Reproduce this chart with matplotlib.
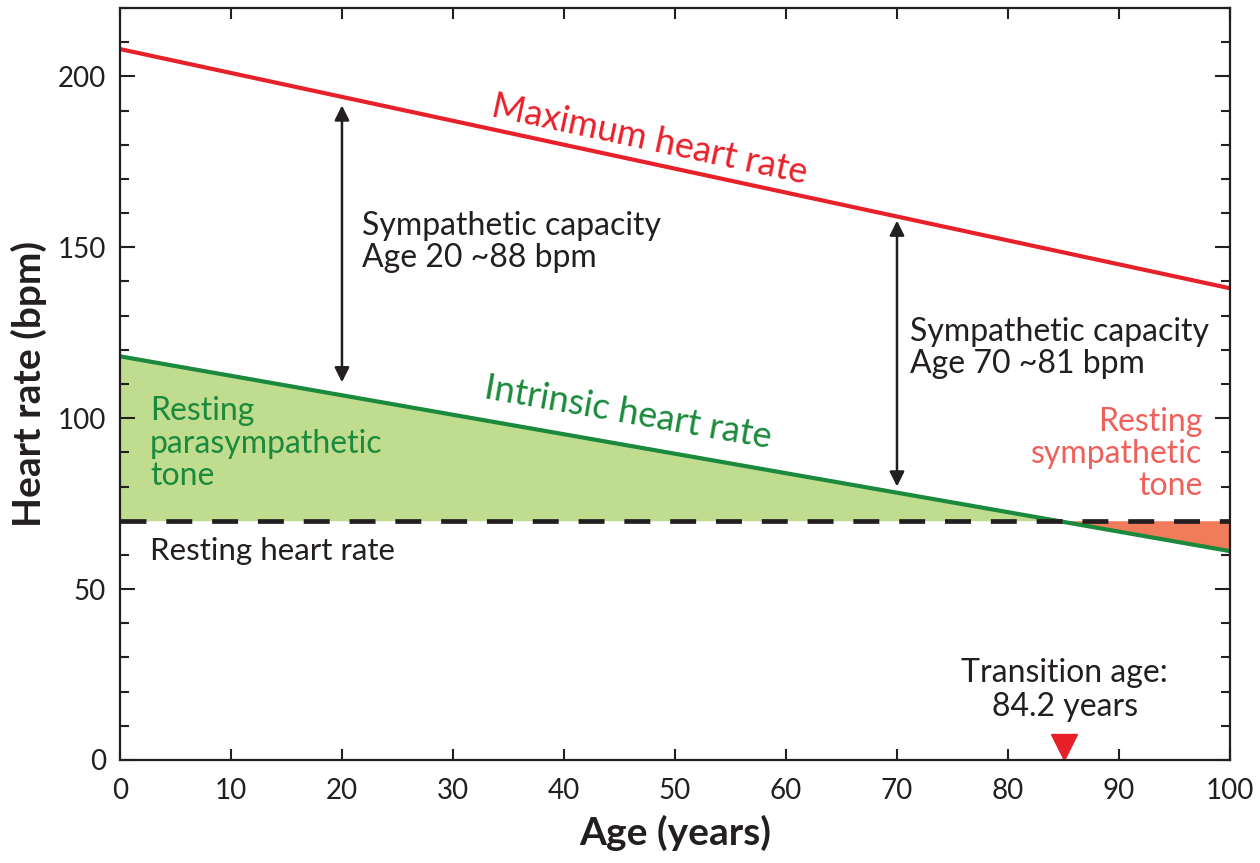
import numpy as np
import matplotlib
matplotlib.use("Agg")
import matplotlib.pyplot as plt
from matplotlib.ticker import MultipleLocator

plt.rcParams['font.family'] = ['Lato', 'DejaVu Sans']

# data
age = np.array([0, 100])
max_hr = np.array([208, 138])           # 208 - 0.7*age
intrinsic_hr = np.array([118.1, 61.1])  # 118.1 - 0.57*age
resting_hr = 70
transition_age = 84.2
marker_age = 85
arrow_ages = [20, 70]
arrow_lo = [110.5, 80]
arrow_hi = [191.5, 157.8]

red = '#e8202a'
green = '#1b8a3c'
ink = '#231f20'

fig = plt.figure(figsize=(12.6, 8.63), dpi=100)
ax = fig.add_axes([0.0952, 0.1194, 0.8810, 0.8713])
ax.set_xlim(0, 100)
ax.set_ylim(0, 220)

# fills between intrinsic and resting
xf = np.linspace(0, 100, 401)
yf = np.interp(xf, age, intrinsic_hr)
ax.fill_between(xf, resting_hr, yf, where=yf >= resting_hr, color='#bfdc8f', lw=0, interpolate=True)
ax.fill_between(xf, resting_hr, yf, where=yf <= resting_hr, color='#f07c5c', lw=0, interpolate=True)

ax.plot(age, max_hr, color=red, lw=3, solid_capstyle='butt')
ax.plot(age, intrinsic_hr, color=green, lw=3, solid_capstyle='butt')
ax.axhline(resting_hr, color=ink, lw=3.4, dashes=(5.5, 4.2))

for a, lo, hi in zip(arrow_ages, arrow_lo, arrow_hi):
    ax.annotate('', xy=(a, hi), xytext=(a, lo),
                arrowprops=dict(arrowstyle='<|-|>', color=ink, lw=1.8,
                                mutation_scale=22, shrinkA=0, shrinkB=0))

ax.plot([marker_age], [3.9], marker='v', color=red, markersize=19, clip_on=False, ls='none')

# rotation angles along the lines
fig.canvas.draw()
def line_angle(y):
    p = ax.transData.transform(np.column_stack([age, y]))
    return np.degrees(np.arctan2(p[1, 1] - p[0, 1], p[1, 0] - p[0, 0]))

ax.text(47.7, 181.5, 'Maximum heart rate', color=red, fontsize=26,
        rotation=line_angle(max_hr), rotation_mode='anchor', ha='center', va='center')
ax.text(45.8, 101.5, 'Intrinsic heart rate', color=green, fontsize=26,
        rotation=line_angle(intrinsic_hr), rotation_mode='anchor', ha='center', va='center')

ax.text(21.8, 151.5, 'Sympathetic capacity\nAge 20 ~88 bpm', fontsize=23,
        color=ink, ha='left', va='center', linespacing=1.1)
ax.text(71.2, 120.5, 'Sympathetic capacity\nAge 70 ~81 bpm', fontsize=23,
        color=ink, ha='left', va='center', linespacing=1.1)
ax.text(2.7, 92.5, 'Resting\nparasympathetic\ntone', fontsize=23, color=green,
        ha='left', va='center', linespacing=1.1)
ax.text(97.5, 89.5, 'Resting\nsympathetic\ntone', fontsize=23, color='#f0605a',
        ha='right', va='center', multialignment='right', linespacing=1.1)
ax.text(2.7, 61, 'Resting heart rate', fontsize=22.5, color=ink,
        ha='left', va='center')
ax.text(85.1, 20.5, f'Transition age:\n{transition_age} years', fontsize=23,
        color=ink, ha='center', va='center', linespacing=1.15)

ax.xaxis.set_major_locator(MultipleLocator(10))
ax.yaxis.set_major_locator(MultipleLocator(50))
ax.yaxis.set_minor_locator(MultipleLocator(10))
ax.tick_params(which='both', direction='in', top=True, right=True, width=1.5,
               colors=ink, labelsize=20)
ax.tick_params(axis='x', which='major', length=8, pad=13)
ax.tick_params(axis='y', which='major', length=11, pad=10)
ax.tick_params(which='minor', length=6.5)
for s in ax.spines.values():
    s.set_linewidth(1.6)
    s.set_color(ink)

ax.set_xlabel('Age (years)', fontsize=28, fontweight='bold', labelpad=8, color=ink)
ax.set_ylabel('Heart rate (bpm)', fontsize=28, fontweight='bold', labelpad=8, color=ink)

fig.savefig('out.png', dpi=100)
